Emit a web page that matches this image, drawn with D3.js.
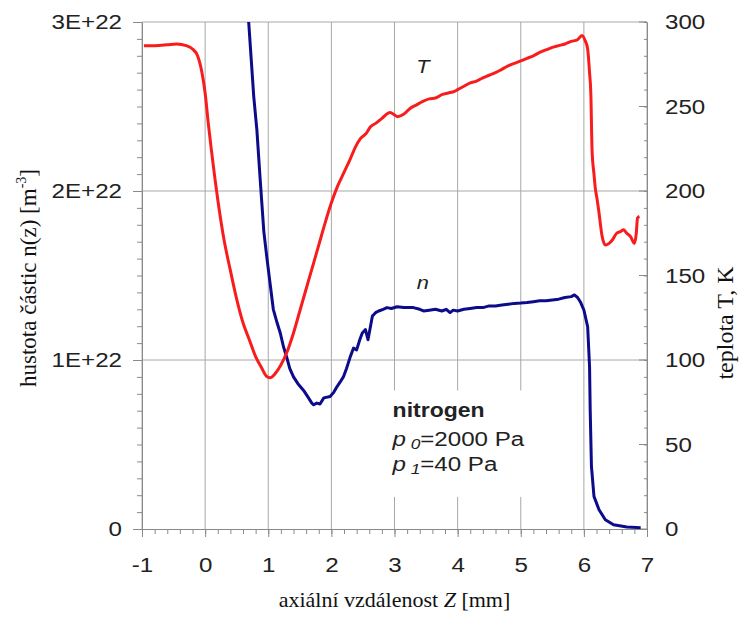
<!DOCTYPE html>
<html>
<head>
<meta charset="utf-8">
<script src="https://cdn.jsdelivr.net/npm/d3@7"></script>
<style>
  body { margin: 0; background: #fff; }
  svg { display: block; }
</style>
</head>
<body>
<script>
// temperature curve T(z), right axis [K]
const zT = [-0.97, -0.8, -0.6, -0.45, -0.3, -0.2, -0.12, -0.05, 0, 0.05, 0.1, 0.2, 0.3, 0.4, 0.5, 0.6, 0.7, 0.8, 0.9, 0.97,
  1.03, 1.1, 1.2, 1.3, 1.4, 1.5, 1.6, 1.7, 1.8, 1.9, 2.0, 2.1, 2.2, 2.3, 2.38, 2.46, 2.55, 2.62, 2.7,
  2.8, 2.93, 3.0, 3.05, 3.15, 3.25, 3.35, 3.45, 3.55, 3.65, 3.75, 3.85, 3.95, 4.0, 4.1, 4.2, 4.3, 4.4, 4.5, 4.6,
  4.7, 4.8, 4.9, 5.0, 5.1, 5.2, 5.3, 5.4, 5.5, 5.6, 5.7, 5.8, 5.9, 5.97, 6.02, 6.06, 6.09, 6.11, 6.13, 6.16,
  6.18, 6.21, 6.24, 6.29, 6.34, 6.4, 6.45, 6.52, 6.58, 6.63, 6.68, 6.74, 6.8, 6.83, 6.85, 6.88];
const tempK = [286, 286, 286.5, 287, 286, 284, 280, 270, 258, 240, 224, 195, 171, 153, 136, 122, 112, 102, 95, 90.5,
  89.5, 91.5, 97, 105, 116, 129, 142, 155, 168, 181, 193, 203, 211, 219, 226, 231, 234, 238, 240,
  243, 246.5, 245, 244, 245.5, 249, 251, 253, 254.5, 255, 257, 258, 259, 260, 262, 264, 265, 267, 268.5, 270,
  272, 274, 275.5, 277, 278.5, 280, 282, 283.5, 285, 286, 287, 288.5, 289.5, 292, 289, 284, 270, 258, 224, 210,
  202, 195, 187, 173, 168, 169, 171, 175, 176, 177, 175, 173, 169, 175, 184, 185];

// particle density n(z), left axis [1E+22 m^-3]
const zN = [0.66, 0.69, 0.73, 0.77, 0.82, 0.87, 0.93, 0.98, 1.03, 1.08, 1.14, 1.19, 1.24, 1.29, 1.34, 1.4, 1.47, 1.56, 1.63, 1.69,
  1.72, 1.77, 1.82, 1.88, 1.98, 2.04, 2.09, 2.14, 2.19, 2.24, 2.3, 2.35, 2.4, 2.45, 2.49, 2.54, 2.58, 2.62, 2.65, 2.7,
  2.75, 2.82, 2.88, 2.95, 3.04, 3.15, 3.3, 3.4, 3.46, 3.55, 3.65, 3.75, 3.82, 3.88, 3.93, 4.0, 4.1, 4.2, 4.3, 4.4,
  4.5, 4.6, 4.7, 4.8, 4.9, 5.0, 5.1, 5.2, 5.3, 5.4, 5.5, 5.6, 5.7, 5.8, 5.85, 5.9, 5.95, 6.0, 6.06, 6.09,
  6.1, 6.12, 6.16, 6.24, 6.34, 6.47, 6.68, 6.9];
const density = [3.2, 3.0, 2.78, 2.56, 2.36, 2.08, 1.76, 1.6, 1.45, 1.3, 1.22, 1.16, 1.08, 1.02, 0.95, 0.9, 0.86, 0.82, 0.78, 0.745,
  0.735, 0.745, 0.74, 0.776, 0.784, 0.81, 0.843, 0.87, 0.9, 0.95, 1.02, 1.07, 1.06, 1.12, 1.16, 1.18, 1.12, 1.2, 1.26, 1.28,
  1.29, 1.3, 1.31, 1.305, 1.315, 1.31, 1.31, 1.3, 1.29, 1.295, 1.3, 1.29, 1.3, 1.28, 1.295, 1.29, 1.3, 1.305, 1.31, 1.31,
  1.32, 1.32, 1.325, 1.33, 1.335, 1.337, 1.34, 1.345, 1.35, 1.35, 1.355, 1.36, 1.37, 1.375, 1.385, 1.37, 1.34, 1.296, 1.197, 0.96,
  0.705, 0.37, 0.193, 0.114, 0.055, 0.025, 0.012, 0.008];

const xTicks = [-1, 0, 1, 2, 3, 4, 5, 6, 7];
const nTicks = [0, 1, 2, 3];
const nTickLabels = ["0", "1E+22", "2E+22", "3E+22"];
const tTicks = [0, 50, 100, 150, 200, 250, 300];

// the picture is a bit wider than tall, so text is stretched sideways
const SX = 1.15;

const margin = {top: 22, right: 94, bottom: 88, left: 142},
    width = 741 - margin.left - margin.right,
    height = 617 - margin.top - margin.bottom;

const svg = d3.select("body")
  .append("svg")
    .attr("width", width + margin.left + margin.right)
    .attr("height", height + margin.top + margin.bottom)
  .append("g")
    .attr("transform", `translate(${margin.left}, ${margin.top})`);

const x = d3.scaleLinear().domain([-1, 7]).range([0, width]);
const yN = d3.scaleLinear().domain([0, 3]).range([height, 0]);
const yT = d3.scaleLinear().domain([0, 300]).range([height, 0]);

const gridCol = "#a8a8a8", axisCol = "#8a8a8a";

// grid
svg.append("g").selectAll("line").data(xTicks).join("line")
  .attr("x1", d => x(d)).attr("x2", d => x(d))
  .attr("y1", 0).attr("y2", height)
  .attr("stroke", gridCol).attr("stroke-width", 1);
svg.append("g").selectAll("line").data(nTicks.slice(1)).join("line")
  .attr("x1", 0).attr("x2", width)
  .attr("y1", d => yN(d)).attr("y2", d => yN(d))
  .attr("stroke", gridCol).attr("stroke-width", 1);

// white box behind the annotation
svg.append("rect")
  .attr("x", x(2.9)).attr("y", yN(0.82))
  .attr("width", x(5.2) - x(2.9)).attr("height", yN(0.19) - yN(0.82))
  .attr("fill", "#fff");

function styleAxis(g) {
  g.select(".domain").attr("stroke", axisCol);
  g.selectAll("line").attr("stroke", axisCol);
  g.selectAll("text")
    .style("font-family", "'Liberation Sans', Arial, sans-serif")
    .style("font-size", "21px")
    .attr("fill", "#222");
}

// minor ticks
svg.append("g").call(d3.axisLeft(yN).tickValues(d3.range(0, 3.001, 0.1)).tickSize(5).tickFormat(""))
  .call(g => { g.select(".domain").remove(); g.selectAll("line").attr("stroke", axisCol); });
svg.append("g").attr("transform", `translate(0, ${height})`)
  .call(d3.axisBottom(x).tickValues(d3.range(-1, 7.001, 0.2)).tickSize(5).tickFormat(""))
  .call(g => { g.select(".domain").remove(); g.selectAll("line").attr("stroke", axisCol); });
svg.append("g").attr("transform", `translate(${width}, 0)`)
  .call(d3.axisLeft(yT).tickValues(d3.range(0, 300.1, 10)).tickSize(3).tickFormat(""))
  .call(g => { g.select(".domain").remove(); g.selectAll("line").attr("stroke", axisCol); });

// left axis
svg.append("g")
  .call(d3.axisLeft(yN).tickValues(nTicks).tickSize(9).tickSizeOuter(0)
    .tickFormat((d, i) => nTickLabels[i]))
  .call(styleAxis)
  .call(g => g.selectAll("text").attr("x", -20 / SX).attr("transform", `scale(${SX},1)`));

// bottom axis (plain hyphen for -1, like the original)
svg.append("g")
  .attr("transform", `translate(0, ${height})`)
  .call(d3.axisBottom(x).tickValues(xTicks).tickSize(8).tickSizeOuter(0).tickFormat(d => String(d)))
  .call(styleAxis)
  .call(g => g.selectAll("text").attr("y", 28).attr("transform", `scale(${SX},1)`));

// right axis, ticks point inwards
svg.append("g")
  .attr("transform", `translate(${width}, 0)`)
  .call(d3.axisRight(yT).tickValues(tTicks).tickSize(0).tickSizeOuter(0))
  .call(styleAxis)
  .call(g => g.selectAll("text").attr("x", 18 / SX).attr("transform", `scale(${SX},1)`));
svg.append("g").selectAll("line").data(tTicks).join("line")
  .attr("x1", width - 8).attr("x2", width)
  .attr("y1", d => yT(d)).attr("y2", d => yT(d))
  .attr("stroke", axisCol);

// clip, the n curve leaves the plot at the top
svg.append("defs").append("clipPath").attr("id", "clip")
  .append("rect").attr("width", width).attr("height", height);

const plot = svg.append("g").attr("clip-path", "url(#clip)");

plot.append("path")
  .datum(d3.zip(zN, density))
  .attr("fill", "none")
  .attr("stroke", "#0c0c8a")
  .attr("stroke-width", 3)
  .attr("stroke-linejoin", "round")
  .attr("d", d3.line().x(d => x(d[0])).y(d => yN(d[1])));

plot.append("path")
  .datum(d3.zip(zT, tempK))
  .attr("fill", "none")
  .attr("stroke", "#f81c1c")
  .attr("stroke-width", 3)
  .attr("stroke-linejoin", "round")
  .attr("d", d3.line().curve(d3.curveMonotoneX).x(d => x(d[0])).y(d => yT(d[1])));

// stretched text helper
function label(px, py, txt, size, opts = {}) {
  return svg.append("text")
    .attr("x", px / SX).attr("y", py)
    .attr("transform", `scale(${SX},1)`)
    .attr("text-anchor", opts.anchor || "start")
    .style("font-family", opts.family || "'Liberation Sans', Arial, sans-serif")
    .style("font-size", size + "px")
    .style("font-style", opts.italic ? "italic" : "normal")
    .style("font-weight", opts.bold ? "bold" : "normal")
    .attr("fill", "#222")
    .text(txt);
}

// curve labels
label(x(3.45), yT(270), "T", 19, {italic: true, anchor: "middle"});
label(x(3.45), yN(1.42), "n", 19, {italic: true, anchor: "middle"});

// annotation
label(x(2.97), yN(0.66), "nitrogen", 20, {bold: true});
const p0 = label(x(2.97), yN(0.49), "", 21);
p0.append("tspan").style("font-style", "italic").text("p");
p0.append("tspan").style("font-style", "italic").style("font-size", "15px").attr("dx", 4).attr("dy", 3).text("0");
p0.append("tspan").attr("dy", -3).text("=2000 Pa");
const p1 = label(x(2.97), yN(0.345), "", 21);
p1.append("tspan").style("font-style", "italic").text("p");
p1.append("tspan").style("font-style", "italic").style("font-size", "15px").attr("dx", 4).attr("dy", 3).text("1");
p1.append("tspan").attr("dy", -3).text("=40 Pa");

// axis titles
const serif = "'Liberation Serif', 'Times New Roman', serif";
const xt = svg.append("text")
  .attr("x", x(3)).attr("y", height + 78)
  .attr("text-anchor", "middle")
  .style("font-family", serif).style("font-size", "22px")
  .attr("fill", "#111");
xt.append("tspan").text("axiální vzdálenost ");
xt.append("tspan").style("font-style", "italic").text("Z");
xt.append("tspan").text(" [mm]");

const yl = svg.append("text")
  .attr("transform", `translate(${36 - margin.left}, ${278 - margin.top}) rotate(-90)`)
  .attr("text-anchor", "middle")
  .style("font-family", serif).style("font-size", "23px")
  .attr("fill", "#111");
yl.append("tspan").text("hustota částic n(z) [m");
yl.append("tspan").style("font-size", "14px").attr("dy", -10).text("-3");
yl.append("tspan").attr("dy", 10).text("]");

svg.append("text")
  .attr("transform", `translate(${733 - margin.left}, ${323 - margin.top}) rotate(-90)`)
  .attr("text-anchor", "middle")
  .style("font-family", serif).style("font-size", "24px")
  .attr("fill", "#111")
  .text("teplota T, K");
</script>
</body>
</html>
